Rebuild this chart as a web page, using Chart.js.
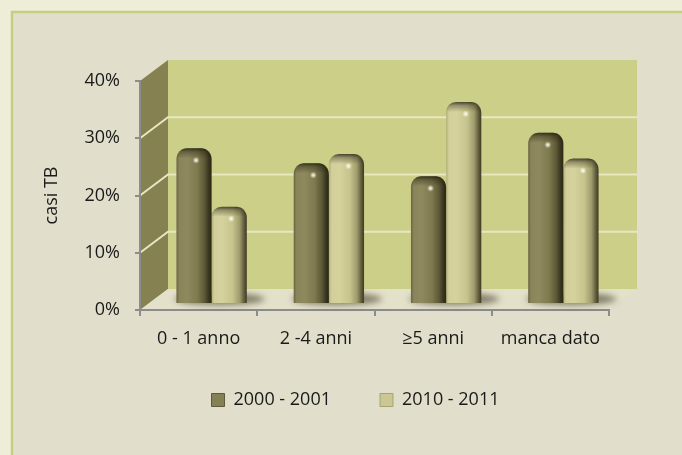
<!DOCTYPE html>
<html><head><meta charset="utf-8">
<style>html,body{margin:0;padding:0;background:#eeeed8;}canvas{display:block;}</style>
<script src="https://cdn.jsdelivr.net/npm/chart.js@4/dist/chart.umd.min.js"></script>
</head><body>
<canvas id="c" width="682" height="455"></canvas>
<script>
const categories = ['0 - 1 anno', '2 -4 anni', '\u22655 anni', 'manca dato'];
const seriesLabels = ['2000 - 2001', '2010 - 2011'];
const values2000 = [27.2, 24.6, 22.3, 29.9];
const values2010 = [17, 26.2, 35.3, 25.4];
const yTickMax = 40;
const yTickStep = 10;

const FONT = '"Open Sans", "Liberation Sans", sans-serif';
const depth = {dx: 28, dy: -21};
const barShift = {dx: 13, dy: -6};
const legendShift = {dx: 36, dy: -4};
const seriesStyle = [
  {base: '#857f55', edge: '#5e5a3a', stops: [[0,'#6a6542'],[0.08,'#8a845a'],[0.3,'#8f895e'],[0.6,'#7f794f'],[0.8,'#5c5736'],[0.93,'#36331d'],[1,'#2a2715']]},
  {base: '#cbc792', edge: '#a5a276', stops: [[0,'#b3af7b'],[0.08,'#d3cf9b'],[0.3,'#d6d29e'],[0.6,'#c7c38d'],[0.8,'#9e9a6b'],[0.93,'#5c5839'],[1,'#3e3b24']]}
];

const scenePlugin = {
  id: 'scene',
  afterLayout(chart) {
    const lg = chart.legend;
    if (lg) {
      lg.left += legendShift.dx; lg.right += legendShift.dx;
      lg.top += legendShift.dy; lg.bottom += legendShift.dy;
    }
  },
  beforeDraw(chart) {
    const ctx = chart.ctx, xs = chart.scales.x, ys = chart.scales.y;
    ctx.save();
    ctx.fillStyle = '#eeeed8';
    ctx.fillRect(0, 0, chart.width, chart.height);
    ctx.fillStyle = '#e1dfcb';
    ctx.fillRect(12, 12, chart.width, chart.height);
    ctx.strokeStyle = '#c5d07f';
    ctx.lineWidth = 2.5;
    ctx.strokeRect(12, 12, chart.width + 20, chart.height + 20);
    const L = xs.left, R = xs.right, T = ys.getPixelForValue(yTickMax), B = ys.getPixelForValue(0);
    const dx = depth.dx, dy = depth.dy;
    ctx.fillStyle = '#cccf88';
    ctx.fillRect(L + dx, T + dy, R - L, B - T);
    ctx.fillStyle = '#858150';
    ctx.beginPath();
    ctx.moveTo(L, T); ctx.lineTo(L + dx, T + dy); ctx.lineTo(L + dx, B + dy); ctx.lineTo(L, B); ctx.closePath();
    ctx.fill();
    ctx.fillStyle = '#e4e1cb';
    ctx.beginPath();
    ctx.moveTo(L, B); ctx.lineTo(L + dx, B + dy); ctx.lineTo(R + dx, B + dy); ctx.lineTo(R, B); ctx.closePath();
    ctx.fill();
    ctx.strokeStyle = '#e6e8c2';
    ctx.lineWidth = 2;
    ys.ticks.forEach(t => {
      if (t.value <= 0 || t.value >= yTickMax) return;
      const py = ys.getPixelForValue(t.value);
      ctx.beginPath();
      ctx.moveTo(L, py); ctx.lineTo(L + dx, py + dy); ctx.lineTo(R + dx, py + dy);
      ctx.stroke();
    });
    ctx.restore();
  },
  beforeDatasetsDraw(chart) {
    const ctx = chart.ctx;
    ctx.save();
    ctx.translate(barShift.dx, barShift.dy);
    const m0 = chart.getDatasetMeta(0), m1 = chart.getDatasetMeta(1);
    ctx.save();
    ctx.filter = 'blur(3px)';
    ctx.fillStyle = 'rgba(45,42,20,0.55)';
    m0.data.forEach((el, i) => {
      const e1 = m1.data[i];
      const x0 = el.x - el.width / 2, x1 = e1.x + e1.width / 2;
      ctx.beginPath();
      ctx.ellipse((x0 + x1) / 2 + 8, el.base - 4, (x1 - x0) / 2 + 10, 6, 0, 0, Math.PI * 2);
      ctx.fill();
    });
    ctx.restore();
    chart.data.datasets.forEach((ds, di) => {
      const meta = chart.getDatasetMeta(di);
      const st = seriesStyle[di];
      meta.data.forEach(el => {
        const g = ctx.createLinearGradient(el.x - el.width / 2, 0, el.x + el.width / 2, 0);
        st.stops.forEach(s => g.addColorStop(s[0], s[1]));
        el.options = Object.assign({}, el.options, {backgroundColor: g});
      });
    });
  },
  afterDatasetsDraw(chart) {
    const ctx = chart.ctx;
    chart.data.datasets.forEach((ds, di) => {
      const meta = chart.getDatasetMeta(di);
      meta.data.forEach(el => {
        const w = el.width, x0 = el.x - w / 2, top = el.y;
        const g = ctx.createLinearGradient(0, top, 0, top + 10);
        g.addColorStop(0, 'rgba(25,22,8,0.75)');
        g.addColorStop(0.35, 'rgba(25,22,8,0.35)');
        g.addColorStop(1, 'rgba(25,22,8,0)');
        ctx.fillStyle = g;
        ctx.beginPath();
        ctx.roundRect(x0, top, w, 10, [11, 11, 0, 0]);
        ctx.fill();
        const cx = el.x + 2, cy = top + 12;
        const rg = ctx.createRadialGradient(cx, cy, 0, cx, cy, 3.5);
        rg.addColorStop(0, 'rgba(255,255,240,1)');
        rg.addColorStop(1, 'rgba(255,255,240,0)');
        ctx.fillStyle = rg;
        ctx.beginPath();
        ctx.arc(cx, cy, 3.5, 0, Math.PI * 2);
        ctx.fill();
      });
    });
    ctx.restore();
  }
};

new Chart(document.getElementById('c'), {
  type: 'bar',
  data: {
    labels: categories,
    datasets: [
      {label: seriesLabels[0], data: values2000, backgroundColor: seriesStyle[0].base, borderWidth: 0, borderRadius: 11, clip: false},
      {label: seriesLabels[1], data: values2010, backgroundColor: seriesStyle[1].base, borderWidth: 0, borderRadius: 11, clip: false}
    ]
  },
  options: {
    responsive: false,
    animation: false,
    devicePixelRatio: 1,
    events: [],
    categoryPercentage: 0.6,
    barPercentage: 1.0,
    layout: {padding: {left: 30, right: 73, top: 81, bottom: 32}},
    scales: {
      x: {
        grid: {drawOnChartArea: false, drawTicks: true, tickLength: 6, color: '#8c8c8c', lineWidth: 2, offset: true},
        border: {display: true, color: '#8c8c8c', width: 2},
        ticks: {color: '#1a1a1a', font: {family: FONT, size: 18}, padding: 12, maxRotation: 0},
        afterFit(s) { s.height = 36; }
      },
      y: {
        min: 0, max: yTickMax,
        grid: {drawOnChartArea: false, drawTicks: true, tickLength: 5, color: '#8c8c8c', lineWidth: 2},
        border: {display: true, color: '#8c8c8c', width: 2},
        ticks: {stepSize: yTickStep, color: '#1a1a1a', font: {family: FONT, size: 18}, padding: 15,
                callback: v => v + '%'},
        title: {display: true, text: 'casi TB', color: '#1a1a1a', font: {family: FONT, size: 18}, padding: {top: 11, bottom: 0}},
        afterFit(s) { s.width = 110; }
      }
    },
    plugins: {
      legend: {
        position: 'bottom',
        labels: {
          color: '#1a1a1a', font: {family: FONT, size: 18}, boxWidth: 13, boxHeight: 13, padding: 49,
          generateLabels(chart) {
            return chart.data.datasets.map((ds, i) => ({
              text: ds.label, fillStyle: seriesStyle[i].base, strokeStyle: seriesStyle[i].edge,
              lineWidth: 1, datasetIndex: i, fontColor: '#1a1a1a'
            }));
          }
        }
      },
      tooltip: {enabled: false}
    }
  },
  plugins: [scenePlugin]
});
</script>
</body></html>
